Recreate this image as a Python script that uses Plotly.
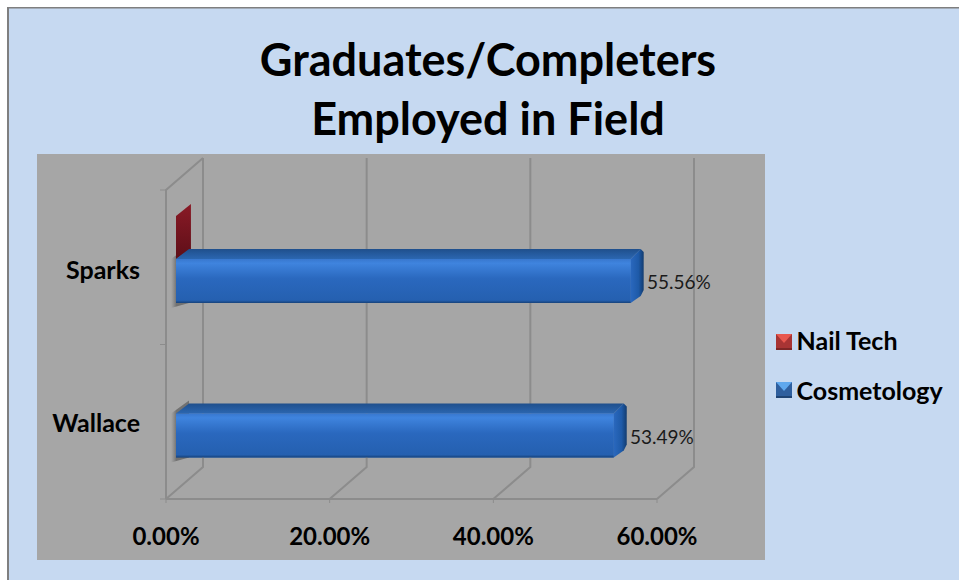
import plotly.graph_objects as go

W, H = 959, 580
categories = ["Wallace", "Sparks"]
cosmetology = [53.49, 55.56]
nail_tech = [None, 0.0]
x_ticks = [0, 20, 40, 60]
x_tick_labels = ["0.00%", "20.00%", "40.00%", "60.00%"]
y_ticks = [0, 1, 2]
BG, PANE = "#C6D9F1", "#A6A6A6"
GRID = "#8C8C8C"

# front plane of the 3-D box, in pixels
L, R, T, B = 166, 657, 190, 499
xu = (R - L) / 60.0
yu = (B - T) / 2.0
# plot area is bigger than the front plane so that the depth can be drawn
PL, PR, PT, PB = 158, 715, 150, 505
DX, DY = 37 / xu, 32 / yu          # whole depth of the chart
BAR0X, BAR0Y = 10 / xu, 9 / yu     # front face of a bar inside the depth
BARDX, BARDY = 13 / xu, 10 / yu    # depth of a bar
COS_C, COS_H = 0.211, 44 / yu
RX, RY = 3 / xu, 3 / yu            # rounding of the bar's far corner


def centre(i):
    return i + COS_C + COS_H / 2 + BAR0Y


fig = go.Figure()


def line(xs, ys, color=GRID, width=2):
    fig.add_trace(go.Scatter(x=xs, y=ys, mode="lines", line=dict(color=color, width=width),
                             hoverinfo="skip", showlegend=False))


for t in x_ticks:
    line([t, t + DX, t + DX], [0, DY, 2 + DY])
    line([t, t], [0, -4 / yu], width=1)
line([0, 60], [0, 0])
line([0, 0, DX], [0, 2, 2 + DY])
for v in y_ticks:
    line([-6 / xu, 0], [v, v], width=1)


def poly(xs, ys, stops, kind="vertical"):
    fig.add_trace(go.Scatter(
        x=xs + xs[:1], y=ys + ys[:1], mode="lines", fill="toself", line=dict(width=0),
        fillgradient=dict(type=kind, colorscale=stops),
        hoverinfo="skip", showlegend=False))


BLUE_TOP = [[0, "#2B66B0"], [1, "#1F4F8C"]]
BLUE_SIDE = [[0, "#2A68BE"], [0.6, "#1E5AA8"], [1, "#123C70"]]
BLUE_FRONT = [[0, "#17437C"], [0.06, "#2560B0"], [0.55, "#2A68BE"], [0.9, "#3F84DE"], [1, "#3877CE"]]
SHADOW = [[0, "rgba(90,90,90,0)"], [0.3, "rgba(70,70,70,0.55)"], [1, "rgba(70,70,70,0.55)"]]

# soft shadow on the wall behind the bar starts
for i, v in enumerate(cosmetology):
    y0 = centre(i)
    x0 = BAR0X
    poly([x0 - 5 / xu, x0 + BARDX, x0 + BARDX, x0 - 5 / xu],
         [y0 - COS_H / 2 - 5 / yu, y0 - COS_H / 2, y0 + COS_H / 2 + BARDY + 3 / yu, y0 + COS_H / 2],
         SHADOW, kind="horizontal")

# Nail Tech: value 0, only the end cap of the box shows
for i, v in enumerate(nail_tech):
    if v is None:
        continue
    x0 = BAR0X + v
    y0 = centre(i) + COS_H / 2
    poly([x0, x0 + BARDX * 1.15, x0 + BARDX * 1.15, x0],
         [y0, y0 + 10 / yu, y0 + 55 / yu, y0 + 43 / yu],
         [[0, "#5E0F18"], [1, "#8A1A26"]])

fig.add_trace(go.Bar(
    name="Nail Tech", y=[centre(i) + 0.6 for i in range(2)], x=nail_tech, base=BAR0X, orientation="h",
    width=COS_H, marker=dict(color="#B83A3A", line=dict(width=0)), hoverinfo="skip", showlegend=False))
fig.add_trace(go.Bar(
    name="Cosmetology", y=[centre(i) for i in range(2)], x=cosmetology, base=BAR0X, orientation="h",
    width=COS_H, marker=dict(color="#2A6BC0", line=dict(width=0)), hoverinfo="skip", showlegend=False))

for i, v in enumerate(cosmetology):
    y0 = centre(i)
    xa, xb = BAR0X, BAR0X + v
    hi, lo = y0 + COS_H / 2, y0 - COS_H / 2
    poly([xa, xb, xb + BARDX - RX, xa + BARDX], [hi, hi, hi + BARDY, hi + BARDY], BLUE_TOP)
    poly([xb, xb + BARDX - RX, xb + BARDX, xb + BARDX, xb + BARDX - RX, xb],
         [lo, lo + BARDY - RY, lo + BARDY + RY, hi + BARDY - RY, hi + BARDY, hi], BLUE_SIDE, kind="horizontal")
    poly([xa, xb, xb, xa], [lo, lo, hi, hi], BLUE_FRONT)
    fig.add_annotation(x=xb + BARDX, y=y0, text=f"{v:.2f}%", showarrow=False, xanchor="left", xshift=1, yshift=-1,
                       font=dict(family="Lato", size=19, color="#1a1a1a"))

# legend entries (swatches are drawn as bevelled shapes below)
for name in ["Nail Tech", "Cosmetology"]:
    fig.add_trace(go.Scatter(x=[None], y=[None], mode="markers", name=name, legendgroup=name,
                             marker=dict(symbol="square", size=16, color="rgba(0,0,0,0)", line=dict(width=0))))


def px_x(v):
    return v / W


def px_y(v):
    return 1 - v / H


def swatch(x0, y0, base, light, dark):
    x1, y1 = x0 + 16, y0 + 16
    return [
        dict(type="rect", xref="paper", yref="paper", x0=px_x(x0), x1=px_x(x1), y0=px_y(y1), y1=px_y(y0),
             fillcolor=base, line=dict(width=0), layer="above"),
        dict(type="path", xref="paper", yref="paper",
             path=f"M {px_x(x0)} {px_y(y0)} L {px_x(x1)} {px_y(y0)} L {px_x(x0 + 8)} {px_y(y0 + 9)} Z",
             fillcolor=light, line=dict(width=0), layer="above"),
        dict(type="rect", xref="paper", yref="paper", x0=px_x(x0), x1=px_x(x1), y0=px_y(y1), y1=px_y(y1 - 2),
             fillcolor=dark, line=dict(width=0), layer="above"),
    ]


shapes = [
    dict(type="rect", xref="paper", yref="paper", x0=px_x(7), x1=1, y0=0, y1=px_y(7),
         fillcolor=BG, line=dict(width=0), layer="below"),
    dict(type="rect", xref="paper", yref="paper", x0=px_x(7), x1=px_x(9), y0=0, y1=px_y(7),
         fillcolor="#7F7F7F", line=dict(width=0), layer="below"),
    dict(type="rect", xref="paper", yref="paper", x0=px_x(7), x1=1, y0=px_y(8.5), y1=px_y(7),
         fillcolor="#7F7F7F", line=dict(width=0), layer="below"),
    dict(type="rect", xref="paper", yref="paper", x0=px_x(37), x1=px_x(765), y0=px_y(560), y1=px_y(154),
         fillcolor=PANE, line=dict(width=0), layer="below"),
]
shapes += swatch(776, 334, "#A83434", "#E8584F", "#7E2626")
shapes += swatch(776, 382, "#2F5F9E", "#5FA8EE", "#1F4474")

fig.update_layout(
    width=W, height=H, autosize=False, showlegend=True,
    paper_bgcolor="#FFFFFF", plot_bgcolor="rgba(0,0,0,0)", barmode="overlay",
    margin=dict(l=0, r=0, t=0, b=0, autoexpand=False),
    font=dict(family="Lato", color="#000000"),
    title=dict(text="<b>Graduates/Completers<br>Employed in Field</b>", x=488 / W, xanchor="center",
               y=1 - 76 / H, yanchor="top", font=dict(family="Lato", size=45, color="#000000")),
    xaxis=dict(domain=[PL / W, PR / W], range=[(PL - L) / xu, (PR - L) / xu], tickvals=x_ticks, ticktext=x_tick_labels,
               showgrid=False, zeroline=False, showline=False, ticks="", ticklabelstandoff=15,
               tickfont=dict(family="Lato", size=24, color="#000000", weight="bold")),
    yaxis=dict(domain=[1 - PB / H, 1 - PT / H], range=[(B - PB) / yu, (B - PT) / yu], tickvals=[0.49, 1.48],
               ticktext=categories, showgrid=False, zeroline=False, showline=False, ticks="", ticklabelstandoff=17,
               tickfont=dict(family="Lato", size=25, color="#000000", weight="bold")),
    legend=dict(x=756.5 / W, y=1 - 317 / H, xanchor="left", yanchor="top", bgcolor="rgba(0,0,0,0)",
                traceorder="grouped", tracegroupgap=15, font=dict(family="Lato", size=25, color="#000000", weight="bold"),
                itemclick=False, itemdoubleclick=False),
    shapes=shapes,
)
fig.write_html("out.html", config={"displayModeBar": False},
               post_script="document.body.style.margin='0';document.body.style.overflow='hidden';")
